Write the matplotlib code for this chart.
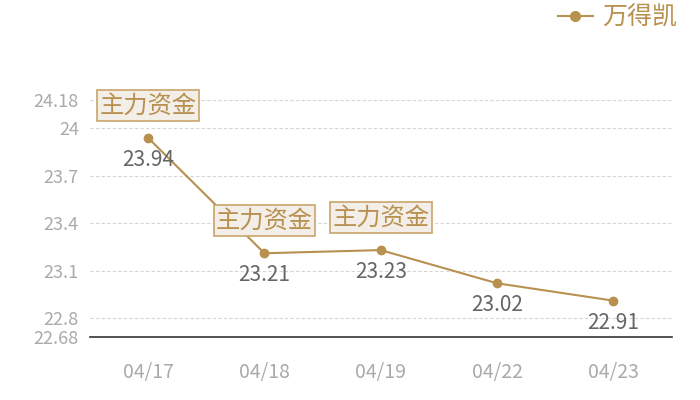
import matplotlib
matplotlib.use("Agg")
import matplotlib.pyplot as plt
from matplotlib.lines import Line2D

plt.rcParams['font.family'] = ['Noto Sans CJK SC', 'DejaVu Sans']

dates = ["04/17", "04/18", "04/19", "04/22", "04/23"]
prices = [23.94, 23.21, 23.23, 23.02, 22.91]
flags = [True, True, True, False, False]
flag_label = "主力资金"
series_name = "万得凯"
yticks = [22.68, 22.8, 23.1, 23.4, 23.7, 24, 24.18]
ytick_labels = ["22.68", "22.8", "23.1", "23.4", "23.7", "24", "24.18"]

line_color = "#b8904f"
fig = plt.figure(figsize=(7, 4), dpi=100)
ax = fig.add_axes([90/700, 63/400, 581.5/700, 237/400])

x = list(range(len(dates)))
ax.plot(x, prices, color=line_color, lw=1.5, marker='o', ms=6, zorder=3)
ax.set_xlim(-0.5, len(dates) - 0.5)
ax.set_ylim(22.68, 24.18)
ax.set_yticks(yticks)
ax.set_yticklabels(ytick_labels)
ax.set_xticks(x)
ax.set_xticklabels(dates)
ax.tick_params(axis='both', length=0, colors='#aaaaaa')
ax.tick_params(axis='x', pad=18, labelsize=14)
ax.tick_params(axis='y', pad=8, labelsize=13)
for t in yticks[1:]:
    ax.axhline(t, color='#d5d5d5', lw=0.8, ls=(0, (3, 2)), zorder=1)
for s in ['top', 'right', 'left']:
    ax.spines[s].set_visible(False)
ax.spines['bottom'].set_color('#333333')
ax.spines['bottom'].set_linewidth(1.2)

for xi, p, f in zip(x, prices, flags):
    ax.annotate(f"{p:.2f}", (xi, p), xytext=(0, -8), textcoords='offset points',
                ha='center', va='top', fontsize=15, color='#666666')
    if f:
        ax.annotate(flag_label, (xi, p), xytext=(0, 14), textcoords='offset points',
                    ha='center', va='bottom', fontsize=17.5, color='#b8904f',
                    bbox=dict(boxstyle='square,pad=0.1', fc='#f3efe8', ec='#c9a46a', lw=1.2))

h = Line2D([], [], color=line_color, lw=1.5, marker='o', ms=7)
fig.legend([h], [series_name], loc='upper right', bbox_to_anchor=(1.0, 1.045),
           frameon=False, fontsize=18, labelcolor=line_color, handlelength=1.4,
           handletextpad=0.4)

fig.savefig("out.png", dpi=100)
